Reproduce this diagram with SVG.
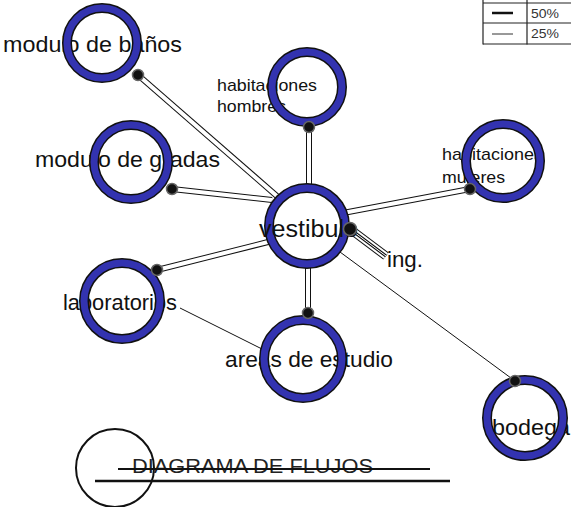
<svg xmlns="http://www.w3.org/2000/svg" width="571" height="507" viewBox="0 0 571 507">
<style>
  .lbl { font-family: "Liberation Sans", Arial, sans-serif; font-size: 22px; fill: #111; }
  .sm { font-size: 17px; }
  .ring-o { fill: none; stroke: #111; stroke-width: 10; }
  .ring-i { fill: none; stroke: #3333b0; stroke-width: 7; }
  .dbl-o { stroke: #111; stroke-width: 6; stroke-linecap: butt; }
  .dbl-i { stroke: #fff; stroke-width: 4; stroke-linecap: butt; }
  .thin { stroke: #111; stroke-width: 1; }
  .dot { fill: #111; stroke: #666; stroke-width: 1.5; }
  .leg { font-family: "Liberation Sans", Arial, sans-serif; font-size: 13px; fill: #333; }
</style>
<rect width="571" height="507" fill="#fff"/>

<g id="legend">
  <line x1="483" y1="0" x2="483" y2="44.5" stroke="#222" stroke-width="1.2"/>
  <line x1="527" y1="0" x2="527" y2="44.5" stroke="#222" stroke-width="1.2"/>
  <line x1="483" y1="3" x2="571" y2="3" stroke="#222" stroke-width="1.2"/>
  <line x1="483" y1="23" x2="571" y2="23" stroke="#222" stroke-width="1.2"/>
  <line x1="483" y1="44" x2="571" y2="44" stroke="#222" stroke-width="1.2"/>
  <line x1="492" y1="13" x2="513" y2="13" stroke="#111" stroke-width="2.5"/>
  <line x1="492" y1="34" x2="513" y2="34" stroke="#333" stroke-width="1"/>
  <text class="leg" x="531" y="18" textLength="28" lengthAdjust="spacingAndGlyphs">50%</text>
  <text class="leg" x="531" y="38" textLength="28" lengthAdjust="spacingAndGlyphs">25%</text>
</g>

<g id="connectors">
  <g>
    <line class="dbl-o" x1="138" y1="75" x2="278" y2="197"/>
    <line class="dbl-i" x1="138" y1="75" x2="278" y2="197"/>
  </g>
  <g>
    <line class="dbl-o" x1="309" y1="127" x2="309" y2="190"/>
    <line class="dbl-i" x1="309" y1="127" x2="309" y2="190"/>
  </g>
  <g>
    <line class="dbl-o" x1="172" y1="189" x2="272" y2="200"/>
    <line class="dbl-i" x1="172" y1="189" x2="272" y2="200"/>
  </g>
  <g>
    <line class="dbl-o" x1="470" y1="189" x2="343" y2="213"/>
    <line class="dbl-i" x1="470" y1="189" x2="343" y2="213"/>
  </g>
  <g>
    <line class="dbl-o" x1="157" y1="270" x2="272" y2="241"/>
    <line class="dbl-i" x1="157" y1="270" x2="272" y2="241"/>
  </g>
  <g>
    <line class="dbl-o" x1="308" y1="313" x2="308" y2="262"/>
    <line class="dbl-i" x1="308" y1="313" x2="308" y2="262"/>
  </g>
  <line class="thin" x1="515" y1="381" x2="340" y2="252"/>
  <line class="thin" x1="180" y1="308" x2="262" y2="349"/>
  <g id="ing-line">
    <line x1="350" y1="229" x2="386" y2="256" stroke="#111" stroke-width="9"/>
    <line x1="350" y1="229" x2="386" y2="256" stroke="#fff" stroke-width="7"/>
    <line x1="350" y1="229" x2="386" y2="256" stroke="#111" stroke-width="3"/>
    <line x1="350" y1="229" x2="386" y2="256" stroke="#fff" stroke-width="1"/>
  </g>
</g>

<g id="node-banos">
  <text class="lbl" x="3" y="52" textLength="179" lengthAdjust="spacingAndGlyphs">modulo de baños</text>
  <circle class="ring-o" cx="102" cy="43" r="35"/>
  <circle class="ring-i" cx="102" cy="43" r="35"/>
  <circle class="dot" cx="138" cy="75" r="5.5"/>
</g>

<g id="node-hombres">
  <text class="lbl sm" x="217" y="91" textLength="100" lengthAdjust="spacingAndGlyphs">habitaciones</text>
  <text class="lbl sm" x="217" y="112" textLength="69" lengthAdjust="spacingAndGlyphs">hombres</text>
  <circle class="ring-o" cx="307" cy="87" r="35"/>
  <circle class="ring-i" cx="307" cy="87" r="35"/>
  <circle class="dot" cx="309" cy="127" r="5.5"/>
</g>

<g id="node-gradas">
  <text class="lbl" x="35" y="167" textLength="185" lengthAdjust="spacingAndGlyphs">modulo de gradas</text>
  <circle class="ring-o" cx="131" cy="162" r="37"/>
  <circle class="ring-i" cx="131" cy="162" r="37"/>
  <circle class="dot" cx="172" cy="189" r="5.5"/>
</g>

<g id="node-mujeres">
  <text class="lbl sm" x="442" y="160" textLength="101" lengthAdjust="spacingAndGlyphs">habitaciones</text>
  <text class="lbl sm" x="442" y="183" textLength="63" lengthAdjust="spacingAndGlyphs">mujeres</text>
  <circle class="ring-o" cx="503" cy="161" r="37"/>
  <circle class="ring-i" cx="503" cy="161" r="37"/>
  <circle class="dot" cx="470" cy="189" r="5.5"/>
</g>

<g id="node-vestibulo">
  <circle class="ring-o" cx="307" cy="226" r="38"/>
  <circle class="ring-i" cx="307" cy="226" r="38"/>
  <text class="lbl" x="259" y="237" textLength="99" lengthAdjust="spacingAndGlyphs" style="font-size:23px">vestibulo</text>
  <circle class="dot" cx="350" cy="229" r="6.5"/>
</g>

<g id="node-ing">
  <text class="lbl" x="387" y="267" textLength="36" lengthAdjust="spacingAndGlyphs">ing.</text>
</g>

<g id="node-laboratorios">
  <text class="lbl" x="63" y="310" textLength="114" lengthAdjust="spacingAndGlyphs">laboratorios</text>
  <circle class="ring-o" cx="122" cy="301" r="38"/>
  <circle class="ring-i" cx="122" cy="301" r="38"/>
  <circle class="dot" cx="157" cy="270" r="5.5"/>
</g>

<g id="node-areas">
  <text class="lbl" x="225" y="367" textLength="168" lengthAdjust="spacingAndGlyphs">areas de estudio</text>
  <circle class="ring-o" cx="303" cy="359" r="39"/>
  <circle class="ring-i" cx="303" cy="359" r="39"/>
  <circle class="dot" cx="308" cy="313" r="5.5"/>
</g>

<g id="node-bodega">
  <text class="lbl" x="492" y="435" textLength="78" lengthAdjust="spacingAndGlyphs">bodega</text>
  <circle class="ring-o" cx="525" cy="418" r="38"/>
  <circle class="ring-i" cx="525" cy="418" r="38"/>
  <circle class="dot" cx="515" cy="381" r="5.5"/>
</g>

<g id="title">
  <circle cx="115" cy="468" r="39" fill="none" stroke="#111" stroke-width="2"/>
  <text class="lbl" x="132" y="473" textLength="241" lengthAdjust="spacingAndGlyphs" style="font-size:20px;fill:#222">DIAGRAMA DE FLUJOS</text>
  <line x1="118" y1="469" x2="430" y2="469" stroke="#111" stroke-width="2"/>
  <line x1="95" y1="481" x2="450" y2="481" stroke="#111" stroke-width="2.5"/>
</g>
</svg>
